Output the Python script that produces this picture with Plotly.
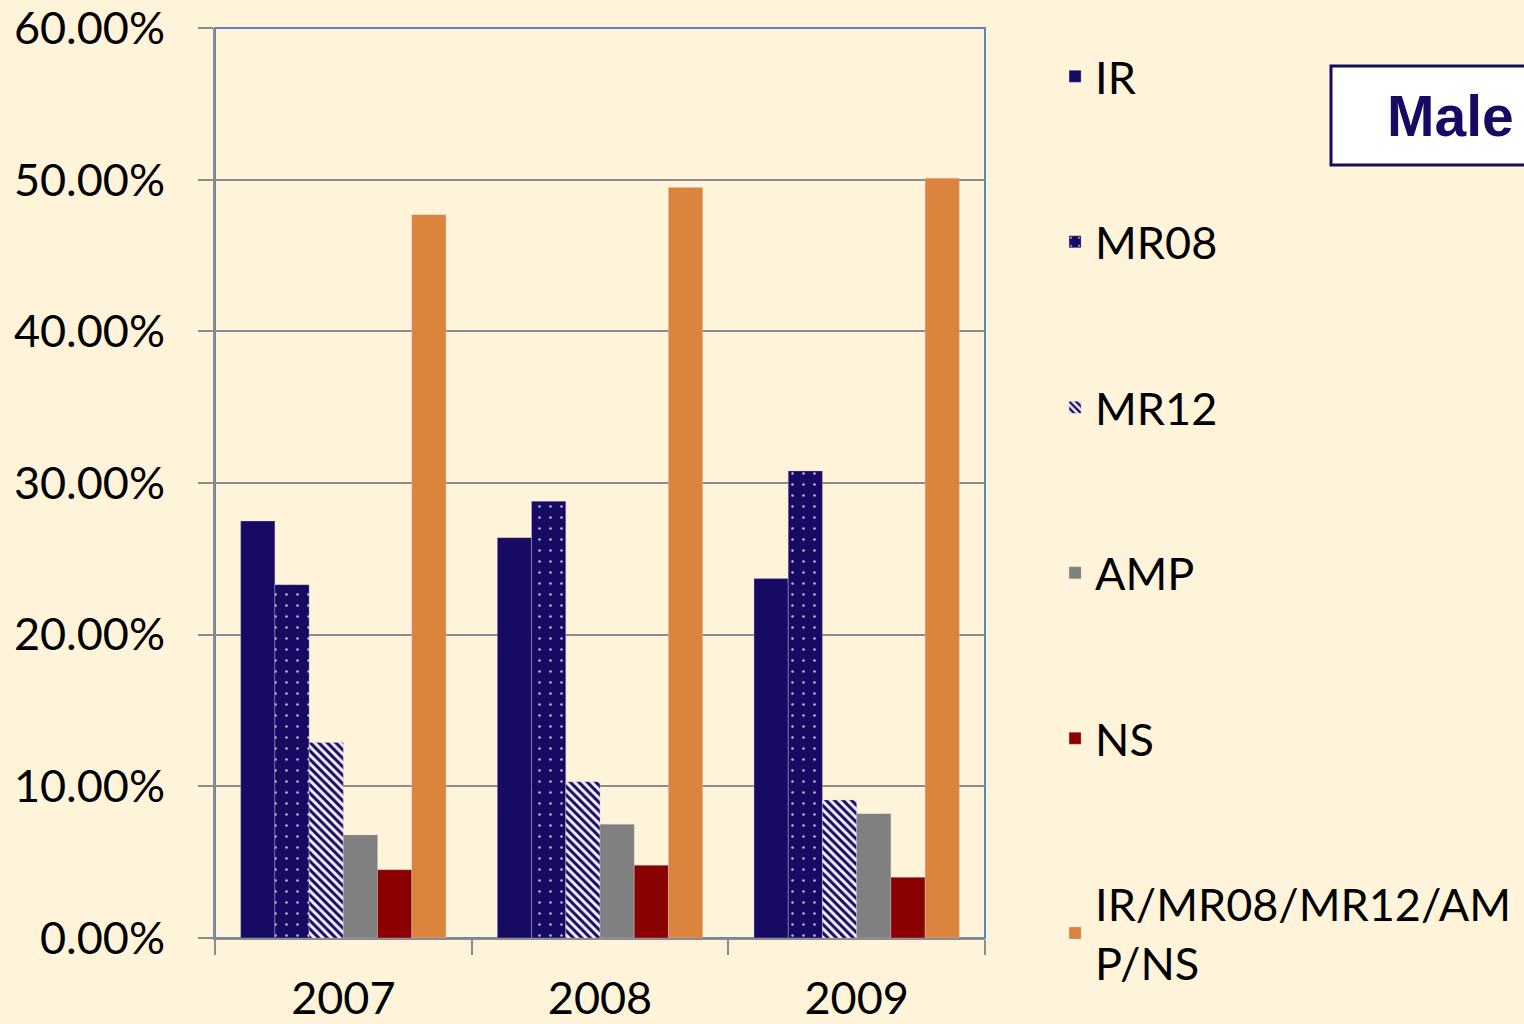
import plotly.graph_objects as go

years = ["2007", "2008", "2009"]
series_names = ["IR", "MR08", "MR12", "AMP", "NS", "IR/MR08/MR12/AM<br>P/NS"]
ir = [0.275, 0.264, 0.237]
mr08 = [0.233, 0.288, 0.308]
mr12 = [0.129, 0.103, 0.091]
amp = [0.068, 0.075, 0.082]
ns = [0.045, 0.048, 0.040]
combo = [0.477, 0.495, 0.501]
y_ticks = [0, 0.1, 0.2, 0.3, 0.4, 0.5, 0.6]

BG = "#FFF4DA"
NAVY = "#170A62"
values = [ir, mr08, mr12, amp, ns, combo]
colors = [NAVY, NAVY, NAVY, "#808080", "#8B0000", "#DB843D"]
patterns = [
    None,
    dict(shape=".", bgcolor=NAVY, fgcolor="#C8C4E8", size=11, solidity=0.04, fillmode="replace"),
    dict(shape="\\", bgcolor="#F4F2FF", fgcolor=NAVY, size=6, solidity=0.5, fillmode="replace"),
    None, None, None,
]

fig = go.Figure()
for i, (name, vals) in enumerate(zip(series_names, values)):
    marker = dict(color=colors[i], line=dict(color="rgba(200,200,220,0.6)", width=0.6))
    if patterns[i]:
        marker["pattern"] = patterns[i]
    fig.add_trace(go.Bar(x=years, y=vals, name=name, marker=marker, legendgroup=str(i)))

fig.update_layout(
    width=1524, height=1024,
    paper_bgcolor=BG, plot_bgcolor=BG,
    margin=dict(l=215, r=539, t=28, b=86),
    barmode="group", bargap=0.2, bargroupgap=0,
    font=dict(family="Lato, Noto Sans, sans-serif", size=45, color="#000000"),
    showlegend=True,
    legend=dict(
        xref="container", yref="container",
        x=0.6923, y=0.9604, xanchor="left", yanchor="top",
        font=dict(size=45), tracegroupgap=104, traceorder="grouped",
        bgcolor="rgba(0,0,0,0)", itemwidth=30, maxheight=1000,
    ),
    xaxis=dict(
        type="category", showline=True, linecolor="#8C8C8C", linewidth=2,
        ticks="outside", tickson="boundaries", ticklen=15, tickcolor="#8C8C8C", tickwidth=2,
        showgrid=False, tickfont=dict(size=45), automargin=False, ticklabelstandoff=20,
        ticklabeloverflow="allow",
    ),
    yaxis=dict(
        range=[0, 0.6001], tickvals=y_ticks, tickformat=".2%",
        showline=True, linecolor="#8C8C8C", linewidth=2,
        ticks="outside", ticklen=15, tickcolor="#8C8C8C", tickwidth=2,
        showgrid=True, gridcolor="#8C8C8C", gridwidth=2, zeroline=False,
        tickfont=dict(size=45), automargin=False, ticklabelstandoff=24,
        ticklabeloverflow="allow",
    ),
    shapes=[
        dict(type="rect", xref="paper", yref="paper", x0=0, x1=1, y0=0, y1=1,
             line=dict(color="#5B87C0", width=2), layer="below"),
        dict(type="rect", xref="paper", yref="paper",
             x0=(1331 - 215) / 770, x1=(1540 - 215) / 770,
             y0=(938 - 165) / 910, y1=(938 - 66) / 910,
             fillcolor="#FFFFFF", line=dict(color=NAVY, width=3), layer="above"),
    ],
    annotations=[
        dict(text="<b>Male</b>", xref="paper", yref="paper",
             x=(1516 - 215) / 770, y=(938 - 116) / 910, xanchor="right", yanchor="middle",
             showarrow=False, font=dict(family="Liberation Sans, Arial, sans-serif", size=57, color=NAVY)),
    ],
)

fig.write_html("out.html", config={"displayModeBar": False},
               post_script="document.body.style.margin='0';document.body.style.overflow='hidden';")
